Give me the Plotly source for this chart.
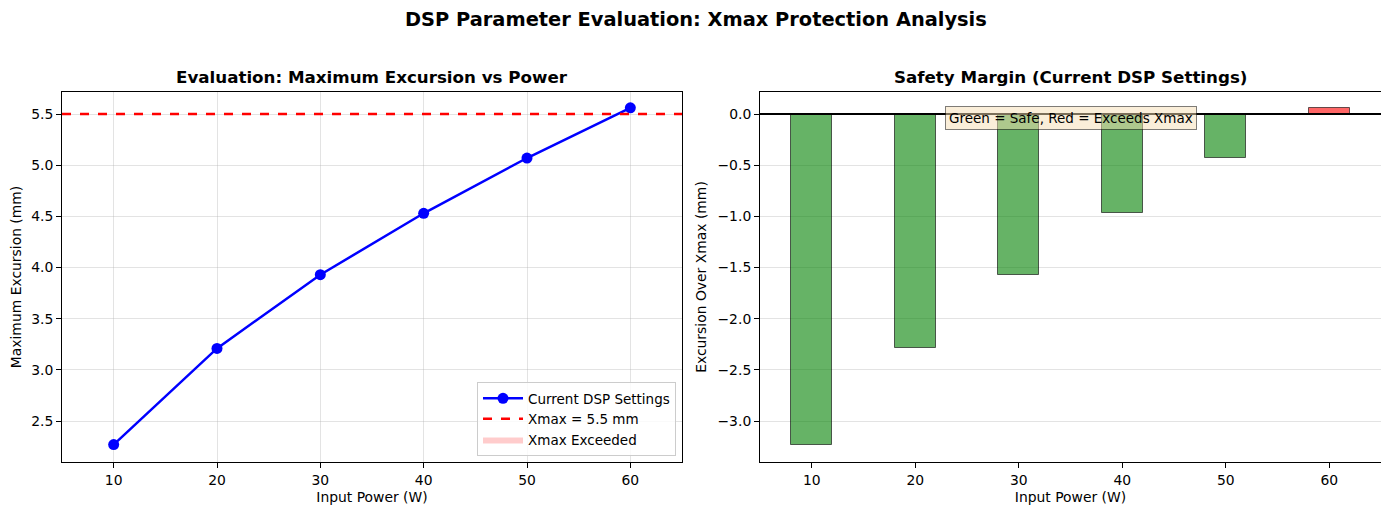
import plotly.graph_objects as go
from plotly.subplots import make_subplots

# Data
power_w = [10, 20, 30, 40, 50, 60]
max_excursion_mm = [2.27, 3.21, 3.93, 4.53, 5.07, 5.56]
xmax_mm = 5.5
margin_mm = [round(e - xmax_mm, 2) for e in max_excursion_mm]

FONT = "DejaVu Sans"
W, H = 1389, 515
OFF = 8  # page body margin pushes the plot down/right
FW, FH = W - OFF, H - OFF


def px_x(x):
    return (x - OFF) / FW


def px_y(y):
    return (FH - (y - OFF)) / FH


fig = make_subplots(rows=1, cols=2)

# Left: excursion vs power
fig.add_trace(
    go.Scatter(
        x=power_w, y=max_excursion_mm,
        mode="lines+markers",
        line=dict(color="blue", width=2.5),
        marker=dict(size=11, color="blue"),
        name="Current DSP Settings",
        legendrank=1,
    ),
    row=1, col=1,
)

# Region where Xmax is exceeded (zero width here, only shows in legend)
over = [(p, e) for p, e in zip(power_w, max_excursion_mm) if e > xmax_mm]
fig.add_trace(
    go.Scatter(
        x=[p for p, _ in over] * 2,
        y=[xmax_mm] * len(over) + [e for _, e in over],
        fill="toself",
        fillcolor="rgba(255,0,0,0.2)",
        line=dict(width=0, color="rgba(255,0,0,0.2)"),
        mode="lines",
        name="Xmax Exceeded",
        legendrank=3,
    ),
    row=1, col=1,
)

fig.add_shape(
    type="line", xref="x domain", yref="y",
    x0=0, x1=1, y0=xmax_mm, y1=xmax_mm,
    line=dict(color="red", width=2.5, dash="dash"),
    showlegend=True, name=f"Xmax = {xmax_mm} mm", legendrank=2,
)

# Right: safety margin bars
bar_colors = ["rgba(255,0,0,0.6)" if m > 0 else "rgba(0,128,0,0.6)" for m in margin_mm]
fig.add_trace(
    go.Bar(
        x=power_w, y=margin_mm, width=4,
        marker=dict(color=bar_colors, line=dict(color="rgba(0,0,0,0.6)", width=1)),
        showlegend=False,
    ),
    row=1, col=2,
)
fig.add_shape(
    type="line", xref="x2 domain", yref="y2",
    x0=0, x1=1, y0=0, y1=0,
    line=dict(color="black", width=2),
)

axis_common = dict(
    showline=True, linecolor="black", linewidth=1, mirror=True,
    ticks="outside", ticklen=5, tickcolor="black",
    tickfont=dict(family=FONT, size=13.9, color="black"),
    zeroline=False, gridcolor="rgba(176,176,176,0.35)", gridwidth=1,
)
title_font = dict(family=FONT, size=13.9, color="black")

fig.update_xaxes(**axis_common)
fig.update_yaxes(**axis_common)

fig.update_xaxes(
    domain=[px_x(62), px_x(682)], range=[5, 65], tickvals=power_w, showgrid=True,
    title=dict(text="Input Power (W)", font=title_font, standoff=5),
    row=1, col=1,
)
fig.update_yaxes(
    domain=[px_y(462), px_y(92)], range=[2.10, 5.715], dtick=0.5, tickformat=".1f",
    showgrid=True,
    title=dict(text="Maximum Excursion (mm)", font=title_font, standoff=7),
    row=1, col=1,
)
fig.update_xaxes(
    domain=[px_x(760), px_x(1381)], range=[5, 65], tickvals=power_w, showgrid=False,
    title=dict(text="Input Power (W)", font=title_font, standoff=5),
    row=1, col=2,
)
fig.update_yaxes(
    domain=[px_y(462), px_y(92)], range=[-3.40, 0.215], dtick=0.5, tickformat=".1f",
    showgrid=True,
    title=dict(text="Excursion Over Xmax (mm)", font=title_font, standoff=7),
    row=1, col=2,
)

annotations = [
    dict(text="<b>DSP Parameter Evaluation: Xmax Protection Analysis</b>",
         x=px_x(W / 2 + 1), y=px_y(19), xref="paper", yref="paper", showarrow=False,
         font=dict(family=FONT, size=19.4, color="black"), xanchor="center", yanchor="middle"),
    dict(text="<b>Evaluation: Maximum Excursion vs Power</b>",
         x=px_x((62 + 682) / 2), y=px_y(77), xref="paper", yref="paper", showarrow=False,
         font=dict(family=FONT, size=16.7, color="black"), xanchor="center", yanchor="middle"),
    dict(text="<b>Safety Margin (Current DSP Settings)</b>",
         x=px_x((760 + 1381) / 2), y=px_y(77), xref="paper", yref="paper", showarrow=False,
         font=dict(family=FONT, size=16.7, color="black"), xanchor="center", yanchor="middle"),
    dict(text="Green = Safe, Red = Exceeds Xmax",
         x=0.5, y=0.962, xref="x2 domain", yref="y2 domain", showarrow=False,
         xanchor="center", yanchor="top",
         font=dict(family=FONT, size=13.5, color="black"),
         bgcolor="rgba(245,222,179,0.5)", bordercolor="rgba(0,0,0,0.5)", borderwidth=1, borderpad=3),
]

fig.update_layout(
    width=FW, height=FH,
    margin=dict(l=0, r=0, t=0, b=0),
    paper_bgcolor="white", plot_bgcolor="white",
    font=dict(family=FONT, size=13.9, color="black"),
    annotations=annotations,
    bargap=0,
    legend=dict(
        x=px_x(676), y=px_y(456), xanchor="right", yanchor="bottom",
        xref="paper", yref="paper",
        bgcolor="rgba(255,255,255,0.8)", bordercolor="#cccccc", borderwidth=1,
        font=dict(family=FONT, size=13.5, color="black"),
        itemwidth=40,
        tracegroupgap=2,
    ),
)

fig.write_html("out.html")
